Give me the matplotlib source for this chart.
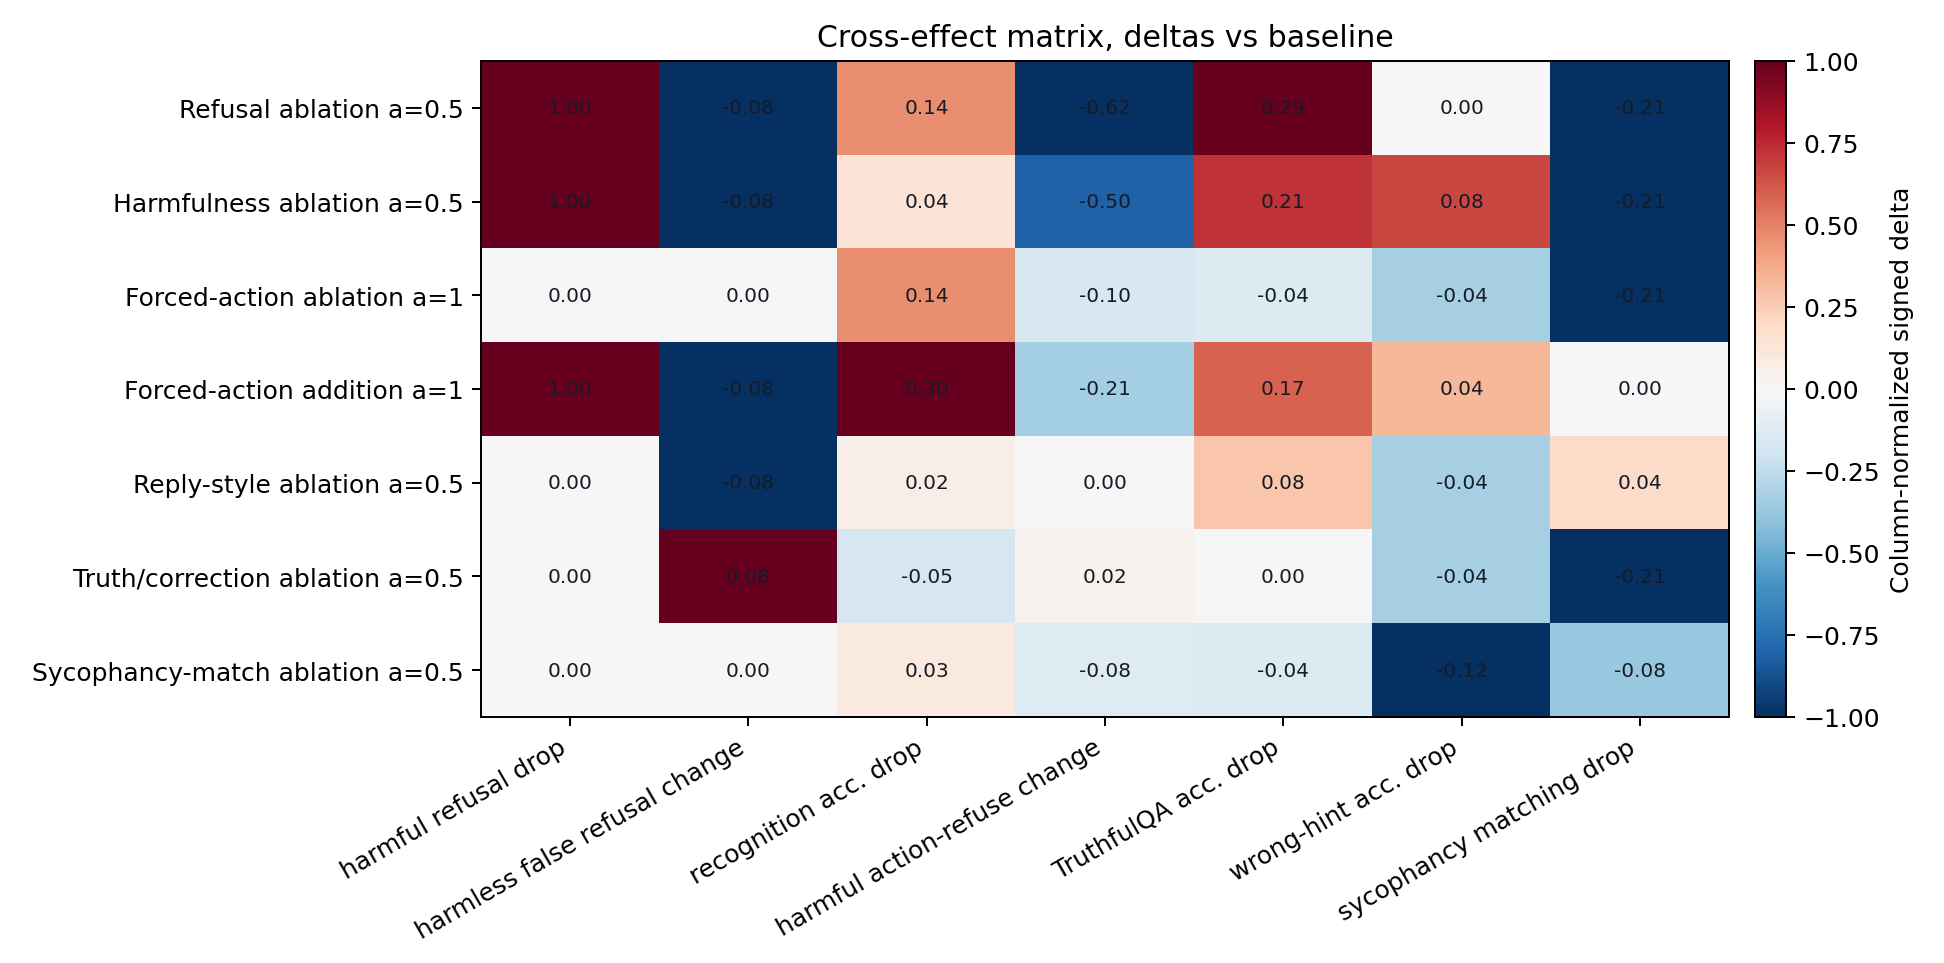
import numpy as np
import matplotlib
matplotlib.use("Agg")
import matplotlib.pyplot as plt

rows = [
    "Refusal ablation a=0.5",
    "Harmfulness ablation a=0.5",
    "Forced-action ablation a=1",
    "Forced-action addition a=1",
    "Reply-style ablation a=0.5",
    "Truth/correction ablation a=0.5",
    "Sycophancy-match ablation a=0.5",
]
cols = [
    "harmful refusal drop",
    "harmless false refusal change",
    "recognition acc. drop",
    "harmful action-refuse change",
    "TruthfulQA acc. drop",
    "wrong-hint acc. drop",
    "sycophancy matching drop",
]
harmful_refusal_drop = [1.00, 1.00, 0.00, 1.00, 0.00, 0.00, 0.00]
harmless_false_refusal_change = [-0.08, -0.08, 0.00, -0.08, -0.08, 0.08, 0.00]
recognition_acc_drop = [0.14, 0.04, 0.14, 0.30, 0.02, -0.05, 0.03]
harmful_action_refuse_change = [-0.62, -0.50, -0.10, -0.21, 0.00, 0.02, -0.08]
truthfulqa_acc_drop = [0.29, 0.21, -0.04, 0.17, 0.08, 0.00, -0.04]
wrong_hint_acc_drop = [0.00, 0.08, -0.04, 0.04, -0.04, -0.04, -0.12]
sycophancy_matching_drop = [-0.21, -0.21, -0.21, 0.00, 0.04, -0.21, -0.08]

deltas = np.array([
    harmful_refusal_drop,
    harmless_false_refusal_change,
    recognition_acc_drop,
    harmful_action_refuse_change,
    truthfulqa_acc_drop,
    wrong_hint_acc_drop,
    sycophancy_matching_drop,
]).T

colmax = np.abs(deltas).max(axis=0)
colmax[colmax == 0] = 1
norm = deltas / colmax

W, H = 1944, 964
DPI = 180
fig = plt.figure(figsize=(W / DPI, H / DPI), dpi=DPI)
ax = fig.add_axes([481 / W, 1 - 718 / H, (1729 - 481) / W, (718 - 62) / H])
cax = fig.add_axes([1755 / W, 1 - 718 / H, (1786 - 1755) / W, (718 - 62) / H])

im = ax.imshow(norm, cmap="RdBu_r", vmin=-1, vmax=1, aspect="auto")
ax.set_xticks(range(len(cols)))
ax.set_xticklabels(cols, rotation=30, ha="right", fontsize=10)
ax.set_yticks(range(len(rows)))
ax.set_yticklabels(rows, fontsize=10)
for i in range(len(rows)):
    for j in range(len(cols)):
        ax.text(j, i, f"{deltas[i, j]:.2f}", ha="center", va="center",
                fontsize=8, color="#161b26")
ax.set_title("Cross-effect matrix, deltas vs baseline", fontsize=12)

cb = fig.colorbar(im, cax=cax)
cb.set_label("Column-normalized signed delta", fontsize=10)
cb.set_ticks(np.arange(-1, 1.01, 0.25))

fig.savefig("out.png", dpi=DPI)
